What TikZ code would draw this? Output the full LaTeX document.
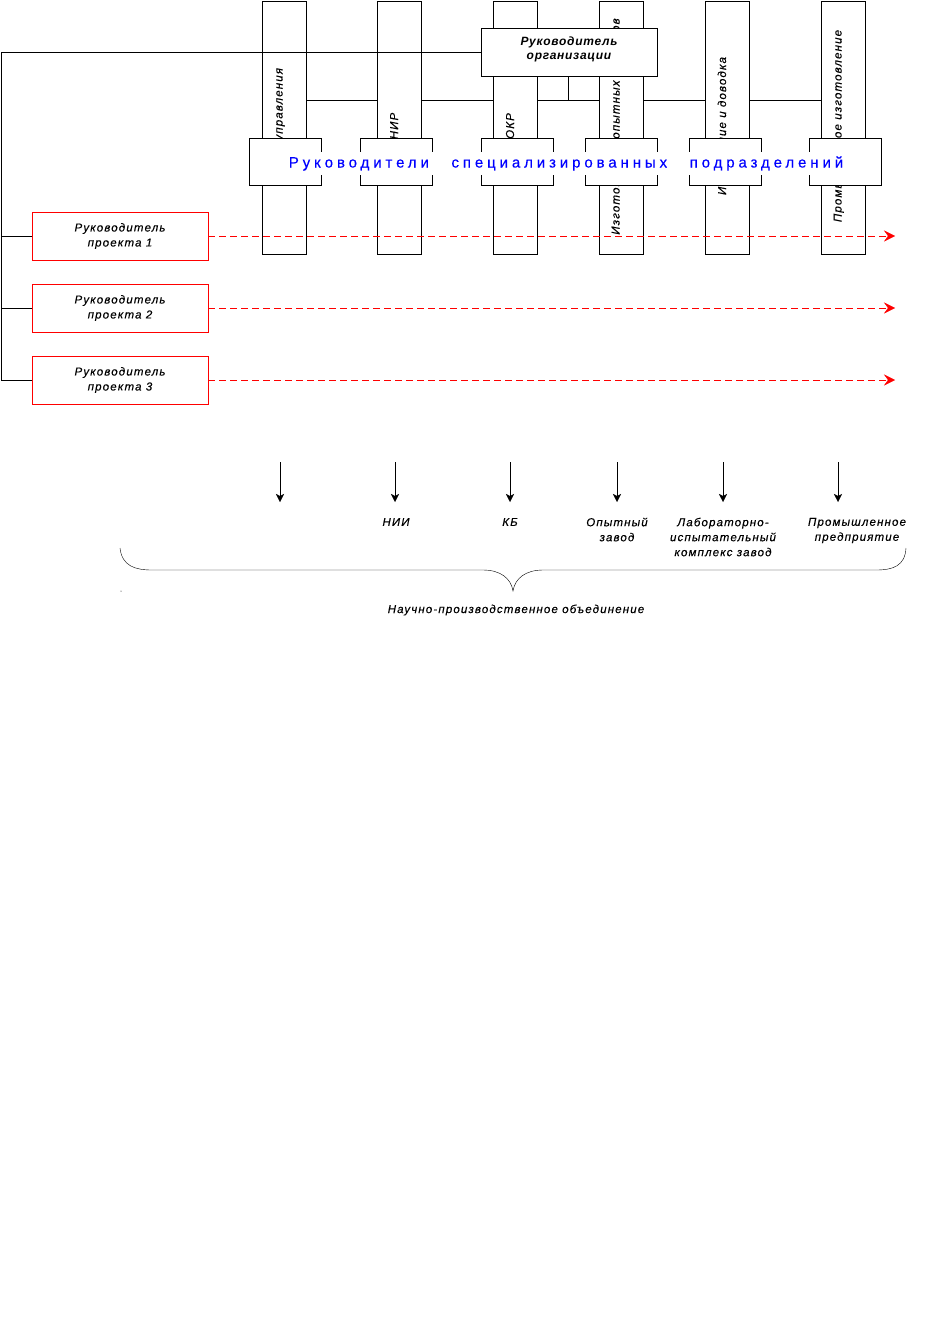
\documentclass[tikz,border=0pt]{standalone}
\usepackage{fontspec}
\setmainfont{Liberation Sans}
\newfontfamily\lblfont[LetterSpace=10,FakeBold=0.3]{Liberation Sans}
\newfontfamily\orgfont[LetterSpace=6]{Liberation Sans}
\newfontfamily\bluefont[LetterSpace=26,WordSpace=2.8,FakeBold=0.3]{Liberation Sans}
\usetikzlibrary{arrows.meta}
\pgfdeclarelayer{bg}
\pgfdeclarelayer{mid}
\pgfsetlayers{bg,mid,main}
\begin{document}
\begin{tikzpicture}[x=1pt,y=-1pt, line width=1pt,
  every node/.style={inner sep=0pt, outer sep=0pt},
  colbox/.style={draw, fill=white, minimum width=44pt, minimum height=253pt},
  coltext/.style={rotate=90, anchor=base, font=\lblfont\itshape\fontsize{11.5}{13}\selectfont},
  capbox/.style={draw, fill=white, minimum width=72pt, minimum height=47pt},
  orgbox/.style={draw, fill=white, minimum width=176pt, minimum height=48pt},
  orgtext/.style={align=center, font=\orgfont\bfseries\itshape\fontsize{12}{14}\selectfont},
  projbox/.style={draw=red, fill=white, minimum width=176pt, minimum height=48pt, align=center, font=\lblfont\itshape\fontsize{11.5}{15}\selectfont},
  projarrow/.style={red, dash pattern=on 7pt off 4pt, -{Stealth[length=11pt,width=11pt,inset=4pt]}},
  downarrow/.style={-{Stealth[length=8pt,width=8pt,inset=2pt]}},
  lbl/.style={align=center, font=\lblfont\itshape\fontsize{11.5}{15}\selectfont},
  bluetext/.style={fill=white, text=blue, inner xsep=2pt, inner ysep=4pt, font=\bluefont\fontsize{15}{17}\selectfont},
]
\begin{pgfonlayer}{bg}
\fill[white] (0,0) rectangle (949,1336);
\end{pgfonlayer}
\useasboundingbox (0,0) rectangle (949,1336);

% columns
\node[colbox] (c1) at (284,127.5) {};
\node[colbox] (c2) at (399.5,127.5) {};
\node[colbox] (c3) at (515.5,127.5) {};
\node[colbox] (c4) at (621,127.5) {};
\node[colbox] (c5) at (727.5,127.5) {};
\node[colbox] (c6) at (843,127.5) {};

% column texts
\node[coltext, anchor=base east] (t1) at (282.5,68) {управления};
\node[coltext] (t2) at (398,126) {НИР};
\node[coltext] (t3) at (514,126) {ОКР};
\node[coltext] (t4) at (619.5,126.5) {Изготовление опытных образцов};
\node[coltext] (t5) at (726,126) {Испытание и доводка};
\node[coltext] (t6) at (841.5,126) {Промышленное изготовление};

% organisation head
\node[orgbox] (org) at (569,52) {};
\node[orgtext] (orgt) at (569,49.5) {Руководитель\\организации};

% hub line behind columns
\coordinate (hub) at (568,100);
\begin{pgfonlayer}{mid}
\draw (c1.east |- hub) -- (c6.west |- hub);
\end{pgfonlayer}
\draw (org.south -| hub) -- (hub);

% project heads
\node[projbox] (p1) at (120,236) {Руководитель\\проекта 1};
\node[projbox] (p2) at (120,308) {Руководитель\\проекта 2};
\node[projbox] (p3) at (120,380) {Руководитель\\проекта 3};

% left bus
\coordinate (corner) at (1.5,52);
\draw (org.west) -- (corner) -- (corner |- p3.west) -- (p3.west);
\draw (corner |- p1.west) -- (p1.west);
\draw (corner |- p2.west) -- (p2.west);

% overlay boxes
\node[capbox] (b1) at (285,161.5) {};
\node[capbox] (b2) at (396,161.5) {};
\node[capbox] (b3) at (517,161.5) {};
\node[capbox] (b4) at (621,161.5) {};
\node[capbox] (b5) at (725,161.5) {};
\node[capbox] (b6) at (845,161.5) {};
\node[bluetext] (heads) at (566,163.5) {Руководители специализированных подразделений};

% dashed project arrows
\coordinate (e1) at (895,236);
\coordinate (e2) at (895,308);
\coordinate (e3) at (895,380);
\draw[projarrow] (p1.east) -- (e1);
\draw[projarrow] (p2.east) -- (e2);
\draw[projarrow] (p3.east) -- (e3);

% bottom arrows
\foreach \i/\x in {1/280,2/395,3/510,4/617,5/723,6/838}{
  \coordinate (s\i) at (\x,462);
  \coordinate (d\i) at (\x,502);
}
\foreach \i in {1,...,6}{ \draw[downarrow] (s\i) -- (d\i); }

\node[lbl] (nii) at (396,522) {НИИ};
\node[lbl] (kb) at (510,522) {КБ};
\node[lbl] (oz) at (617,529.5) {Опытный\\завод};
\node[lbl] (lik) at (723,537) {Лабораторно-\\испытательный\\комплекс завод};
\node[lbl] (pp) at (857,530.5) {Промышленное\\предприятие};

% brace
\draw (120,548) .. controls (122,566) and (135,570) .. (152,570) -- (483,570)
  .. controls (500,570) and (511,578) .. (513,591)
  .. controls (515,578) and (526,570) .. (543,570) -- (876,570)
  .. controls (893,570) and (905,566) .. (906,548);
\fill (121,591) circle (0.5);
\node[lbl] (npo) at (516,610) {Научно-производственное объединение};
\end{tikzpicture}
\end{document}
